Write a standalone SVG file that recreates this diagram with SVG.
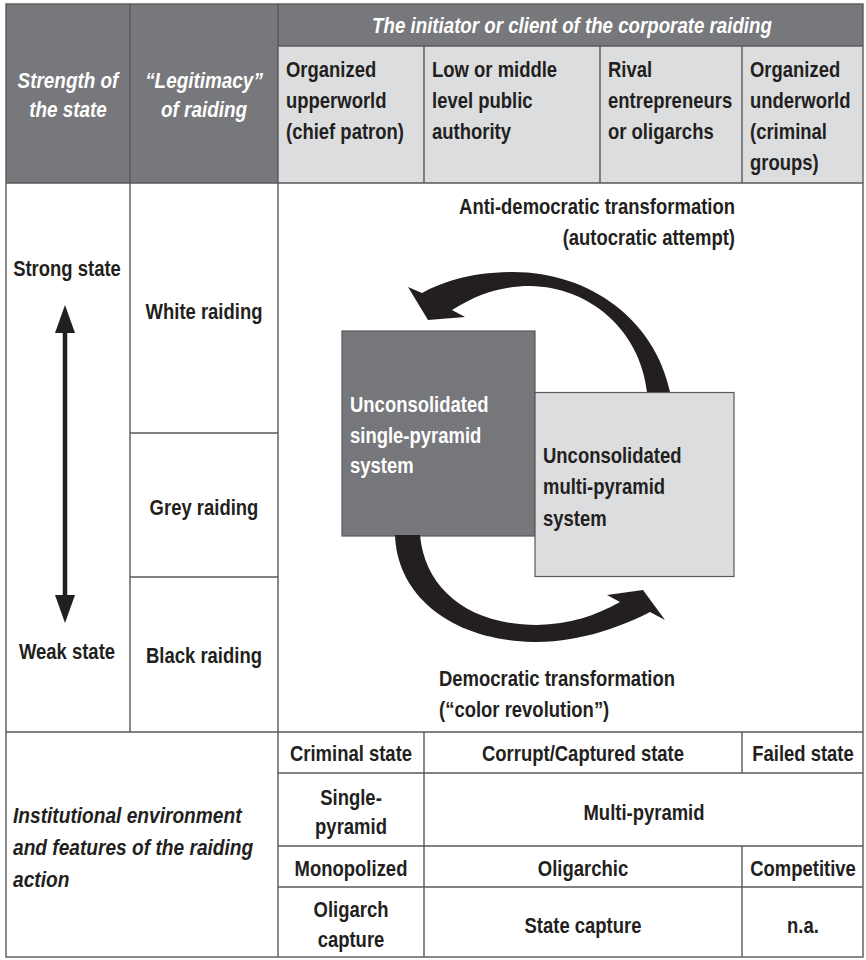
<svg xmlns="http://www.w3.org/2000/svg" width="866" height="960" viewBox="0 0 866 960">
<defs>
<style>
text{font-family:"Liberation Sans",Arial,sans-serif;font-weight:bold;font-size:22px;fill:#231f20}
.it{font-style:italic}
.w{fill:#ffffff}
.mid{text-anchor:middle}
.end{text-anchor:end}
.dark{fill:#77787b}
.light{fill:#dcdddf}
.grid{stroke:#58595b;stroke-width:1.4;fill:none}
.arrow{fill:#231f20}
</style>
<marker id="head" viewBox="0 0 28 20" refX="2" refY="10" markerWidth="28" markerHeight="20" markerUnits="userSpaceOnUse" orient="auto-start-reverse">
<path d="M0,0 L28,10 L0,20 Z" fill="#231f20"/>
</marker>
</defs>
<rect width="866" height="960" fill="#ffffff"/>

<g id="header-strength">
<rect class="dark" x="6" y="4" width="124" height="179"/>
<text class="it w mid" transform="translate(68 88) scale(.86 1)">Strength of</text>
<text class="it w mid" transform="translate(68 117) scale(.86 1)">the state</text>
</g>
<g id="header-legitimacy">
<rect class="dark" x="130" y="4" width="148" height="179"/>
<text class="it w mid" transform="translate(204 88) scale(.86 1)">“Legitimacy”</text>
<text class="it w mid" transform="translate(204 117) scale(.86 1)">of raiding</text>
</g>
<g id="header-initiator">
<rect class="dark" x="278" y="4" width="585" height="42"/>
<text class="it w mid" transform="translate(572 33) scale(.85 1)">The initiator or client of the corporate raiding</text>
</g>
<g id="header-upperworld">
<rect class="light" x="278" y="46" width="146" height="137"/>
<text transform="translate(286 77) scale(.84 1)">Organized</text>
<text transform="translate(286 108) scale(.84 1)">upperworld</text>
<text transform="translate(286 139) scale(.84 1)">(chief patron)</text>
</g>
<g id="header-public">
<rect class="light" x="424" y="46" width="176" height="137"/>
<text transform="translate(432 77) scale(.84 1)">Low or middle</text>
<text transform="translate(432 108) scale(.84 1)">level public</text>
<text transform="translate(432 139) scale(.84 1)">authority</text>
</g>
<g id="header-rival">
<rect class="light" x="600" y="46" width="142" height="137"/>
<text transform="translate(608 77) scale(.84 1)">Rival</text>
<text transform="translate(608 108) scale(.84 1)">entrepreneurs</text>
<text transform="translate(608 139) scale(.84 1)">or oligarchs</text>
</g>
<g id="header-underworld">
<rect class="light" x="742" y="46" width="121" height="137"/>
<text transform="translate(750 77) scale(.84 1)">Organized</text>
<text transform="translate(750 108) scale(.84 1)">underworld</text>
<text transform="translate(750 139) scale(.84 1)">(criminal</text>
<text transform="translate(750 170) scale(.84 1)">groups)</text>
</g>

<g id="strong-state"><text class="mid" transform="translate(67 276) scale(.84 1)">Strong state</text></g>
<g id="weak-state"><text class="mid" transform="translate(67 659) scale(.84 1)">Weak state</text></g>
<g id="white-raiding"><text class="mid" transform="translate(204 319) scale(.84 1)">White raiding</text></g>
<g id="grey-raiding"><text class="mid" transform="translate(204 515) scale(.84 1)">Grey raiding</text></g>
<g id="black-raiding"><text class="mid" transform="translate(204 663) scale(.84 1)">Black raiding</text></g>

<g id="label-antidemocratic">
<text class="end" transform="translate(735 214) scale(.84 1)">Anti-democratic transformation</text>
<text class="end" transform="translate(735 245) scale(.84 1)">(autocratic attempt)</text>
</g>
<g id="label-democratic">
<text transform="translate(439 686) scale(.84 1)">Democratic transformation</text>
<text transform="translate(439 717) scale(.84 1)">(“color revolution”)</text>
</g>

<g id="single-pyramid-box">
<rect x="342" y="331" width="193" height="205" fill="#76777a" stroke="#58595b" stroke-width="1.2"/>
<text class="w" transform="translate(350 412) scale(.84 1)">Unconsolidated</text>
<text class="w" transform="translate(350 443) scale(.84 1)">single-pyramid</text>
<text class="w" transform="translate(350 473) scale(.84 1)">system</text>
</g>
<g id="multi-pyramid-box">
<rect x="535" y="392.5" width="199" height="184" fill="#dcdddf" stroke="#58595b" stroke-width="1.2"/>
<text transform="translate(543 463) scale(.84 1)">Unconsolidated</text>
<text transform="translate(543 494) scale(.84 1)">multi-pyramid</text>
<text transform="translate(543 526) scale(.84 1)">system</text>
</g>

<g id="institutional">
<text class="it" transform="translate(13 823) scale(.87 1)">Institutional environment</text>
<text class="it" transform="translate(13 855) scale(.87 1)">and features of the raiding</text>
<text class="it" transform="translate(13 887) scale(.87 1)">action</text>
</g>
<g id="row-state">
<text class="mid" transform="translate(351 761) scale(.84 1)">Criminal state</text>
<text class="mid" transform="translate(583 761) scale(.84 1)">Corrupt/Captured state</text>
<text class="mid" transform="translate(803 761) scale(.84 1)">Failed state</text>
</g>
<g id="row-pyramid">
<text class="mid" transform="translate(351 805) scale(.84 1)">Single-</text>
<text class="mid" transform="translate(351 834) scale(.84 1)">pyramid</text>
<text class="mid" transform="translate(644 820) scale(.84 1)">Multi-pyramid</text>
</g>
<g id="row-market">
<text class="mid" transform="translate(351 876) scale(.84 1)">Monopolized</text>
<text class="mid" transform="translate(583 876) scale(.84 1)">Oligarchic</text>
<text class="mid" transform="translate(803 876) scale(.84 1)">Competitive</text>
</g>
<g id="row-capture">
<text class="mid" transform="translate(351 917) scale(.84 1)">Oligarch</text>
<text class="mid" transform="translate(351 947) scale(.84 1)">capture</text>
<text class="mid" transform="translate(583 933) scale(.84 1)">State capture</text>
<text class="mid" transform="translate(803 933) scale(.84 1)">n.a.</text>
</g>

<g id="grid" class="grid">
<rect x="6" y="4" width="857" height="953"/>
<path d="M130,4 V732 M278,4 V957 M278,46 H863 M424,46 V183 M600,46 V183 M742,46 V183 M6,183 H863 M130,433 H278 M130,577 H278 M6,732 H863 M278,773 H863 M278,846 H863 M278,887 H863 M424,732 V957 M742,732 V773 M742,846 V957"/>
</g>

<g id="connectors">
<line x1="65" y1="331" x2="65" y2="597" stroke="#231f20" stroke-width="4.5" marker-start="url(#head)" marker-end="url(#head)"/>
<path class="arrow" d="M670,392 C655,320 590,272 513,272 C470,272 440,283 422,293 L408,287 L428,320 L465,317 L452,310 C480,292 505,286 530,286 C590,287 640,330 647,392 Z"/>
<path class="arrow" d="M395,535 C397,595 450,640 533,642 C580,643 625,625 650,612 L665,620 L643,590 L607,595 L620,602 C595,616 570,624 537,625 C470,625 425,590 420,535 Z"/>
</g>
</svg>
